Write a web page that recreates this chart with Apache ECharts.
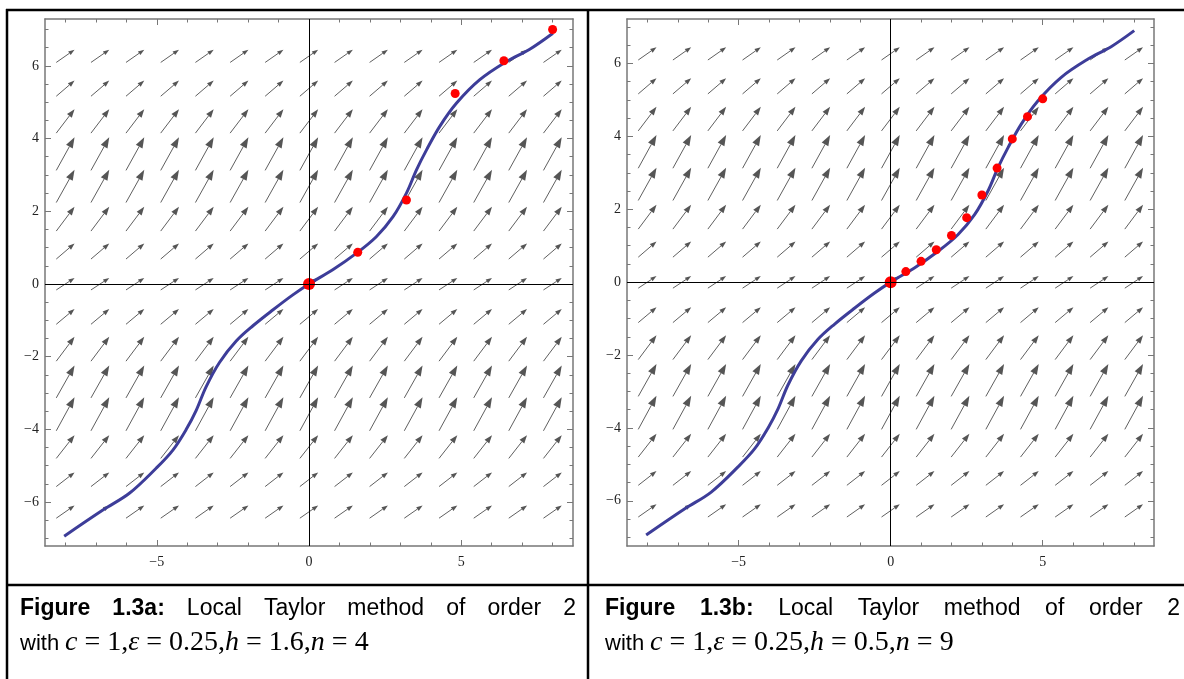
<!DOCTYPE html>
<html>
<head>
<meta charset="utf-8">
<title>Local Taylor method of order 2</title>
<script src="https://cdn.jsdelivr.net/npm/echarts@6/dist/echarts.min.js"></script>
<style>
html, body { margin: 0; padding: 0; background: #fff; }
#chart { width: 1184px; height: 679px; }
</style>
</head>
<body>
<div id="chart"></div>
<script>
// vector field: arrow centres (columns / rows) and the rise of the arrows in each row
const arrowCols = [-8, -6.86, -5.71, -4.57, -3.43, -2.29, -1.14, 0, 1.14, 2.29, 3.43, 4.57, 5.71, 6.86, 8]
const arrowRows = [-6.27, -5.38, -4.48, -3.58, -2.69, -1.79, -0.9, 0, 0.9, 1.79, 2.69, 3.58, 4.48, 5.38, 6.27]
const arrowRise = [0.35, 0.39, 0.64, 0.92, 0.89, 0.67, 0.42, 0.33, 0.43, 0.67, 0.9, 0.91, 0.66, 0.43, 0.35]
const arrowRun = 0.6

// exact solution (same curve in both panels)
const curveX = [-8.04, -6.77, -5.9, -5.02, -4.47, -4.03, -3.7, -3.38, -2.94, -2.39, -1.84, -1.18, -0.53, 0,
  0.78, 1.55, 2.21, 2.76, 3.2, 3.53, 3.86, 4.29, 4.84, 5.61, 6.49, 7.25, 8.01]
const curveY = [-6.94, -6.22, -5.76, -5.07, -4.57, -4.0, -3.47, -2.83, -2.16, -1.57, -1.15, -0.71, -0.3, 0,
  0.39, 0.84, 1.3, 1.85, 2.5, 3.14, 3.69, 4.33, 4.97, 5.62, 6.12, 6.46, 6.9]

// Taylor steps: figure a (h = 1.6) and figure b (h = 0.5)
const stepsAX = [0, 1.6, 3.2, 4.8, 6.4, 8.0]
const stepsAY = [0, 0.87, 2.31, 5.24, 6.14, 7.0]
const stepsBX = [0, 0.5, 1, 1.5, 2, 2.5, 3, 3.5, 4, 4.5, 5]
const stepsBY = [0, 0.29, 0.57, 0.89, 1.28, 1.77, 2.39, 3.13, 3.93, 4.54, 5.03]

// ticks
const xMajor = [-5, 0, 5]
const xMinor = [-8, -7, -6, -4, -3, -2, -1, 1, 2, 3, 4, 6, 7, 8]
const yMajor = [-6, -4, -2, 0, 2, 4, 6]
const yMinor = [-7, -6.5, -5.5, -5, -4.5, -3.5, -3, -2.5, -1.5, -1, -0.5, 0.5, 1, 1.5, 2.5, 3, 3.5, 4.5, 5, 5.5, 6.5, 7]

const captions = [
  { words: ['Figure', '1.3a:', 'Local', 'Taylor', 'method', 'of', 'order', '2'], math: '{i|c} = 1,{i|ε} = 0.25,{i|h} = 1.6,{i|n} = 4' },
  { words: ['Figure', '1.3b:', 'Local', 'Taylor', 'method', 'of', 'order', '2'], math: '{i|c} = 1,{i|ε} = 0.25,{i|h} = 0.5,{i|n} = 9' }
]

const grids = [
  { left: 45, top: 19, width: 528, height: 527, xMin: -8.67, xMax: 8.67, yMin: -7.21, yMax: 7.29 },
  { left: 627, top: 19, width: 527, height: 527, xMin: -8.67, xMax: 8.66, yMin: -7.24, yMax: 7.22 }
]

const frameColor = '#777'
const labelFont = { fontFamily: 'Liberation Serif', fontSize: 14, color: '#222' }
const minus = v => String(v).replace('-', '\u2212')

const xAxes = []
const yAxes = []
grids.forEach((g, gi) => {
  const base = { gridIndex: gi, type: 'value', splitLine: { show: false } }
  const xb = { ...base, min: g.xMin, max: g.xMax }
  const yb = { ...base, min: g.yMin, max: g.yMax }
  ;['bottom', 'top'].forEach(pos => {
    xAxes.push({ ...xb, position: pos,
      axisLine: { show: true, onZero: false, lineStyle: { color: frameColor, width: 1.5 } },
      axisTick: { inside: true, length: 6, customValues: xMajor, lineStyle: { color: frameColor } },
      axisLabel: pos === 'bottom'
        ? { customValues: xMajor, formatter: minus, margin: 9, ...labelFont }
        : { show: false } })
    xAxes.push({ ...xb, position: pos, axisLine: { show: false, onZero: false },
      axisTick: { inside: true, length: 3.5, customValues: xMinor, lineStyle: { color: frameColor } },
      axisLabel: { show: false } })
  })
  ;['left', 'right'].forEach(pos => {
    yAxes.push({ ...yb, position: pos,
      axisLine: { show: true, onZero: false, lineStyle: { color: frameColor, width: 1.5 } },
      axisTick: { inside: true, length: 6, customValues: yMajor, lineStyle: { color: frameColor } },
      axisLabel: pos === 'left'
        ? { customValues: yMajor, formatter: minus, margin: 6, ...labelFont }
        : { show: false } })
    yAxes.push({ ...yb, position: pos, axisLine: { show: false, onZero: false },
      axisTick: { inside: true, length: 3.5, customValues: yMinor, lineStyle: { color: frameColor } },
      axisLabel: { show: false } })
  })
})

const arrowData = []
arrowRows.forEach((y, r) => {
  arrowCols.forEach(x => arrowData.push([x, y, arrowRun, arrowRise[r]]))
})

function renderArrow(params, api) {
  const x = api.value(0), y = api.value(1), dx = api.value(2), dy = api.value(3)
  const tail = api.coord([x - dx / 2, y - dy / 2])
  const tip = api.coord([x + dx / 2, y + dy / 2])
  const vx = tip[0] - tail[0], vy = tip[1] - tail[1]
  const len = Math.hypot(vx, vy)
  const ux = vx / len, uy = vy / len
  const headLen = len * 0.28
  const headW = headLen * 0.36
  const bx = tip[0] - ux * headLen, by = tip[1] - uy * headLen
  return {
    type: 'group',
    children: [
      { type: 'line', shape: { x1: tail[0], y1: tail[1], x2: bx, y2: by }, style: { stroke: '#5f5f5f', lineWidth: 1 } },
      { type: 'polygon', shape: { points: [tip, [bx - uy * headW, by + ux * headW], [bx + uy * headW, by - ux * headW]] },
        style: { fill: '#555' } }
    ]
  }
}

const curveData = curveX.map((x, i) => [x, curveY[i]])
const stepData = [
  stepsAX.map((x, i) => [x, stepsAY[i]]),
  stepsBX.map((x, i) => [x, stepsBY[i]])
]

const series = []
grids.forEach((g, gi) => {
  const axisIdx = { xAxisIndex: gi * 4, yAxisIndex: gi * 4 }
  series.push({
    type: 'custom', ...axisIdx, renderItem: renderArrow, data: arrowData, silent: true, z: 2,
    markLine: {
      silent: true, symbol: 'none', label: { show: false }, animation: false,
      lineStyle: { color: '#000', width: 1, type: 'solid' },
      data: [{ xAxis: 0 }, { yAxis: 0 }]
    }
  })
  series.push({
    type: 'line', ...axisIdx, data: curveData, smooth: 0.35, showSymbol: false, z: 3,
    lineStyle: { color: '#3d3d99', width: 3 }
  })
  series.push({
    type: 'scatter', ...axisIdx, data: stepData[gi], z: 4,
    symbolSize: (v, p) => (p.dataIndex === 0 ? 12 : 9),
    itemStyle: { color: '#ff0000', opacity: 1 }
  })
})

// caption text, justified across each table cell
const ctx = document.createElement('canvas').getContext('2d')
const sansFont = '23px "Liberation Sans", Arial, sans-serif'
const boldFont = 'bold 23px "Liberation Sans", Arial, sans-serif'
const withFont = '22px "Liberation Sans", Arial, sans-serif'
const cells = [{ x0: 20, x1: 576 }, { x0: 605, x1: 1180 }]
const graphics = []
captions.forEach((c, ci) => {
  const fonts = c.words.map((w, i) => (i < 2 ? boldFont : sansFont))
  const widths = c.words.map((w, i) => { ctx.font = fonts[i]; return ctx.measureText(w).width })
  const total = widths.reduce((a, b) => a + b, 0)
  const gap = (cells[ci].x1 - cells[ci].x0 - total) / (c.words.length - 1)
  let x = cells[ci].x0
  c.words.forEach((w, i) => {
    graphics.push({ type: 'text', x: x, y: 609, silent: true,
      style: { text: w, font: fonts[i], fill: '#000', verticalAlign: 'middle' } })
    x += widths[i] + gap
  })
  graphics.push({ type: 'text', x: cells[ci].x0, y: 644, silent: true,
    style: { text: 'with', font: withFont, fill: '#000', verticalAlign: 'middle' } })
  graphics.push({ type: 'text', x: cells[ci].x0 + 45, y: 643, silent: true,
    style: {
      text: c.math, font: '28px "Liberation Serif", "Times New Roman", serif', fill: '#000', verticalAlign: 'middle',
      rich: { i: { fontStyle: 'italic', fontFamily: 'Liberation Serif', fontSize: 28 } }
    } })
})

// table borders
const border = { stroke: '#000', lineWidth: 2.5 }
graphics.push(
  { type: 'line', silent: true, shape: { x1: 6, y1: 10, x2: 1184, y2: 10 }, style: border },
  { type: 'line', silent: true, shape: { x1: 7, y1: 9, x2: 7, y2: 679 }, style: border },
  { type: 'line', silent: true, shape: { x1: 588, y1: 9, x2: 588, y2: 679 }, style: border },
  { type: 'line', silent: true, shape: { x1: 6, y1: 585, x2: 1184, y2: 585 }, style: border }
)

const chart = echarts.init(document.getElementById('chart'))
chart.setOption({
  animation: false,
  backgroundColor: '#fff',
  grid: grids.map(g => ({ left: g.left, top: g.top, width: g.width, height: g.height })),
  xAxis: xAxes,
  yAxis: yAxes,
  series: series,
  graphic: graphics
})
</script>
</body>
</html>
